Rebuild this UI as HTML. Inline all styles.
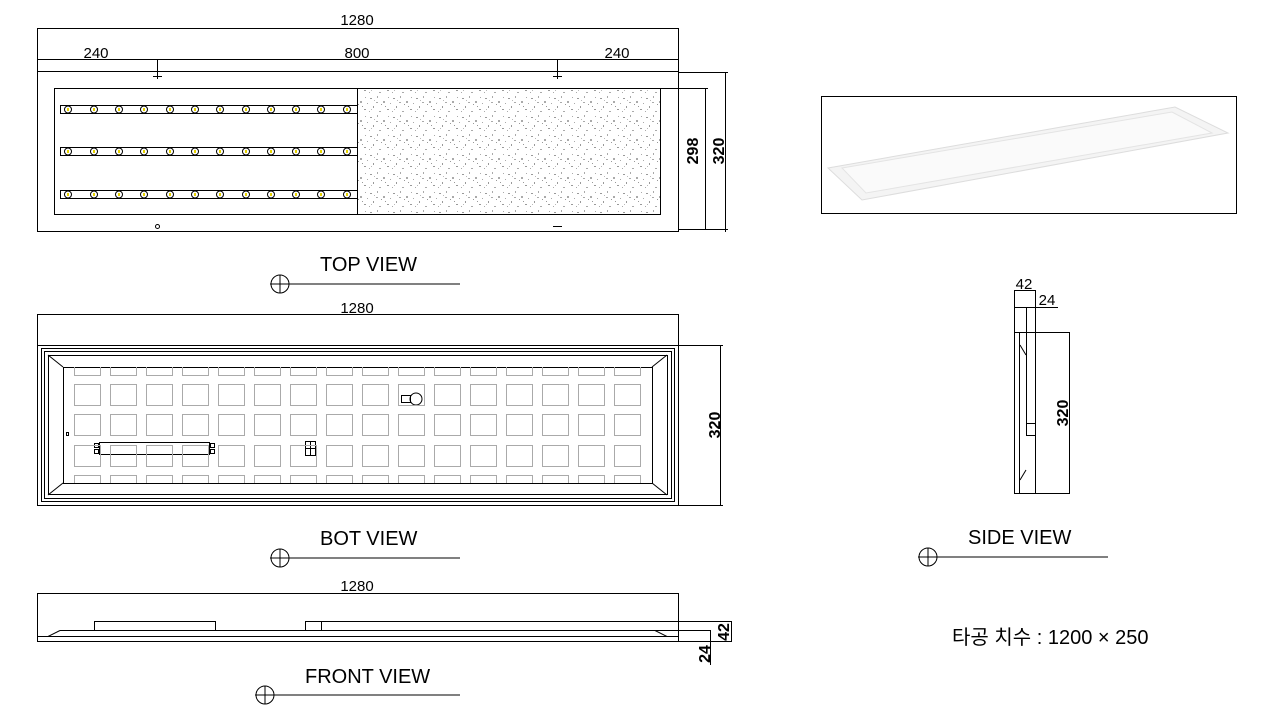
<!DOCTYPE html>
<html><head><meta charset="utf-8"><style>
html,body{margin:0;padding:0;background:#fff;width:1284px;height:711px;overflow:hidden}
svg{display:block}
text{font-family:"Liberation Sans","Noto Sans CJK KR",sans-serif;fill:#000}
</style></head><body>
<svg width="1284" height="711" viewBox="0 0 1284 711" xmlns="http://www.w3.org/2000/svg">
<defs>
<pattern id="spk" width="23" height="19" patternUnits="userSpaceOnUse">
<rect width="23" height="19" fill="#fff"/>
<rect x="2" y="3" width="2" height="1" fill="#999"/><rect x="9" y="1" width="1" height="2" fill="#aaa"/>
<rect x="15" y="6" width="2" height="2" fill="#aaa"/><rect x="5" y="11" width="1" height="2" fill="#999"/>
<rect x="19" y="14" width="2" height="1" fill="#999"/><rect x="11" y="16" width="2" height="1" fill="#aaa"/>
<rect x="13" y="9" width="1" height="1" fill="#999"/><rect x="20" y="2" width="1" height="1" fill="#aaa"/>
<rect x="1" y="16" width="1" height="1" fill="#aaa"/><rect x="8" y="7" width="2" height="1" fill="#aaa"/>
<rect x="17" y="11" width="1" height="1" fill="#999"/><rect x="6" y="5" width="1" height="1" fill="#bbb"/>
<rect x="22" y="8" width="1" height="1" fill="#aaa"/><rect x="3" y="14" width="1" height="1" fill="#bbb"/>
</pattern>
</defs>
<g fill="none" stroke="#000" stroke-width="1">
<rect x="37.5" y="28.5" width="641" height="203"/>
<line x1="37" y1="59.5" x2="678" y2="59.5"/>
<line x1="37" y1="71.5" x2="678" y2="71.5"/>
<line x1="157.5" y1="59" x2="157.5" y2="79"/><line x1="153" y1="76.5" x2="162" y2="76.5"/>
<line x1="557.5" y1="59" x2="557.5" y2="79"/><line x1="553" y1="76.5" x2="562" y2="76.5"/>
<line x1="553" y1="226.5" x2="562" y2="226.5"/>
<rect x="54.5" y="88.5" width="606" height="126"/>
<rect x="358" y="89" width="302" height="125" fill="url(#spk)" stroke="none"/>
<line x1="357.5" y1="88" x2="357.5" y2="214"/>
<rect x="60.5" y="105.5" width="297" height="8"/>
<rect x="60.5" y="147.5" width="297" height="8"/>
<rect x="60.5" y="190.5" width="297" height="8"/>
<line x1="678" y1="72.5" x2="728" y2="72.5"/>
<line x1="678" y1="229.5" x2="728" y2="229.5"/>
<line x1="705.5" y1="88" x2="705.5" y2="229"/>
<line x1="725.5" y1="72" x2="725.5" y2="232"/>
<line x1="660" y1="88.5" x2="708" y2="88.5"/>
<circle cx="157.5" cy="226.5" r="2"/>
<circle cx="280" cy="284" r="9"/><line x1="270" y1="284" x2="460" y2="284"/><line x1="280" y1="275" x2="280" y2="293"/>
<line x1="37.5" y1="314" x2="37.5" y2="346"/><line x1="678.5" y1="314" x2="678.5" y2="346"/>
<line x1="37" y1="314.5" x2="678" y2="314.5"/>
<rect x="37.5" y="345.5" width="641" height="160"/>
<rect x="41.5" y="348.5" width="633" height="153"/>
<rect x="44.5" y="351.5" width="627" height="147"/>
<rect x="48.5" y="355.5" width="619" height="139"/>
<rect x="63.5" y="367.5" width="589" height="116"/>
<line x1="48" y1="355" x2="63" y2="367"/><line x1="48" y1="495" x2="63" y2="483"/>
<line x1="667" y1="355" x2="652" y2="367"/><line x1="667" y1="495" x2="652" y2="483"/>
<line x1="678" y1="345.5" x2="723" y2="345.5"/><line x1="678" y1="505.5" x2="723" y2="505.5"/>
<line x1="720.5" y1="345" x2="720.5" y2="506"/>
<rect x="66.5" y="432.5" width="2" height="3"/>
<rect x="99.5" y="442.5" width="110" height="12"/>
<rect x="94.5" y="443.5" width="4" height="4"/><rect x="94.5" y="449.5" width="4" height="4"/>
<rect x="210.5" y="443.5" width="4" height="4"/><rect x="210.5" y="449.5" width="4" height="4"/>
<rect x="305.5" y="441.5" width="10" height="14"/><line x1="310.5" y1="441" x2="310.5" y2="456"/><line x1="305" y1="448.5" x2="316" y2="448.5"/>
<circle cx="416" cy="399" r="6"/><rect x="401.5" y="395.5" width="9" height="7"/>
<circle cx="280" cy="558" r="9"/><line x1="270" y1="558" x2="460" y2="558"/><line x1="280" y1="549" x2="280" y2="567"/>
<rect x="37.5" y="593.5" width="641" height="48"/>
<rect x="94.5" y="621.5" width="121" height="9"/>
<rect x="305.5" y="621.5" width="373" height="9"/>
<line x1="321.5" y1="621" x2="321.5" y2="631"/>
<line x1="60" y1="630.5" x2="710" y2="630.5"/>
<line x1="37" y1="636.5" x2="678" y2="636.5"/>
<line x1="60" y1="630.5" x2="48" y2="636.5"/><line x1="655" y1="630.5" x2="667" y2="636.5"/>
<line x1="678" y1="621.5" x2="732" y2="621.5"/>
<line x1="678" y1="641.5" x2="732" y2="641.5"/>
<line x1="710.5" y1="630" x2="710.5" y2="665"/>
<line x1="731.5" y1="621" x2="731.5" y2="642"/>
<circle cx="265" cy="695" r="9"/><line x1="255" y1="695" x2="460" y2="695"/><line x1="265" y1="686" x2="265" y2="704"/>
<rect x="821.5" y="96.5" width="415" height="117"/>
<polygon points="828,168 1175,107 1228,133 862,200" fill="#f4f4f4" stroke="#ddd"/>
<polygon points="842,168 1172,112 1212,133 866,193" fill="#fafafa" stroke="#e4e4e4"/>
<rect x="1014.5" y="290.5" width="21" height="203"/>
<line x1="1014" y1="307.5" x2="1058" y2="307.5"/>
<line x1="1014" y1="332.5" x2="1070" y2="332.5"/>
<line x1="1069.5" y1="332" x2="1069.5" y2="494"/>
<line x1="1035" y1="493.5" x2="1070" y2="493.5"/>
<line x1="1019.5" y1="332" x2="1019.5" y2="493"/>
<line x1="1026.5" y1="307" x2="1026.5" y2="435"/>
<rect x="1026.5" y="423.5" width="9" height="12"/>
<line x1="1020" y1="345" x2="1026" y2="355"/><line x1="1020" y1="480" x2="1026" y2="470"/>
<circle cx="928" cy="557" r="9"/><line x1="918" y1="557" x2="1108" y2="557"/><line x1="928" y1="548" x2="928" y2="566"/>
</g>
<g stroke="#000" stroke-width="1" fill="#fff">
<g id="row">
<circle cx="68" cy="109.5" r="3.5"/><circle cx="94" cy="109.5" r="3.5"/><circle cx="119" cy="109.5" r="3.5"/><circle cx="144" cy="109.5" r="3.5"/><circle cx="170" cy="109.5" r="3.5"/><circle cx="195" cy="109.5" r="3.5"/><circle cx="220" cy="109.5" r="3.5"/><circle cx="246" cy="109.5" r="3.5"/><circle cx="271" cy="109.5" r="3.5"/><circle cx="296" cy="109.5" r="3.5"/><circle cx="321" cy="109.5" r="3.5"/><circle cx="347" cy="109.5" r="3.5"/>
</g>
<use href="#row" y="42"/><use href="#row" y="85"/>
</g>
<g fill="#e6d200">
<g id="dots"><rect x="67" y="108" width="2" height="3"/><rect x="93" y="108" width="2" height="3"/><rect x="118" y="108" width="2" height="3"/><rect x="143" y="108" width="2" height="3"/><rect x="169" y="108" width="2" height="3"/><rect x="194" y="108" width="2" height="3"/><rect x="219" y="108" width="2" height="3"/><rect x="245" y="108" width="2" height="3"/><rect x="270" y="108" width="2" height="3"/><rect x="295" y="108" width="2" height="3"/><rect x="320" y="108" width="2" height="3"/><rect x="346" y="108" width="2" height="3"/></g>
<use href="#dots" y="42"/><use href="#dots" y="85"/>
</g>
<g fill="none" stroke="#aaa" stroke-width="1">
<g id="col">
<polyline points="74.5,367 74.5,375.5 100.5,375.5 100.5,367"/>
<rect x="74.5" y="384.5" width="26" height="21"/>
<rect x="74.5" y="414.5" width="26" height="21"/>
<rect x="74.5" y="445.5" width="26" height="21"/>
<polyline points="74.5,483 74.5,475.5 100.5,475.5 100.5,483"/>
</g>
<use href="#col" x="36"/><use href="#col" x="72"/><use href="#col" x="108"/><use href="#col" x="144"/><use href="#col" x="180"/><use href="#col" x="216"/><use href="#col" x="252"/><use href="#col" x="288"/><use href="#col" x="324"/><use href="#col" x="360"/><use href="#col" x="396"/><use href="#col" x="432"/><use href="#col" x="468"/><use href="#col" x="504"/><use href="#col" x="540"/>
</g>
<g font-size="15">
<text x="357" y="25" text-anchor="middle">1280</text>
<text x="96" y="58" text-anchor="middle">240</text>
<text x="357" y="58" text-anchor="middle">800</text>
<text x="617" y="58" text-anchor="middle">240</text>
<text x="357" y="313" text-anchor="middle">1280</text>
<text x="357" y="591" text-anchor="middle">1280</text>
<text x="1024" y="289" text-anchor="middle">42</text>
<text x="1047" y="305" text-anchor="middle">24</text>
</g>
<g font-size="16" font-weight="bold">
<text transform="translate(698,151) rotate(-90)" text-anchor="middle">298</text>
<text transform="translate(724,151) rotate(-90)" text-anchor="middle">320</text>
<text transform="translate(720,425) rotate(-90)" text-anchor="middle">320</text>
<text transform="translate(1068,413) rotate(-90)" text-anchor="middle">320</text>
<text transform="translate(729,632) rotate(-90)" text-anchor="middle">42</text>
<text transform="translate(710,654) rotate(-90)" text-anchor="middle">24</text>
</g>
<g font-size="20">
<text x="320" y="271">TOP VIEW</text>
<text x="320" y="545">BOT VIEW</text>
<text x="305" y="683">FRONT VIEW</text>
<text x="968" y="544">SIDE VIEW</text>
<text x="952" y="644" fill="#333">타공 치수 : 1200 × 250</text>
</g>
</svg>
</body></html>
